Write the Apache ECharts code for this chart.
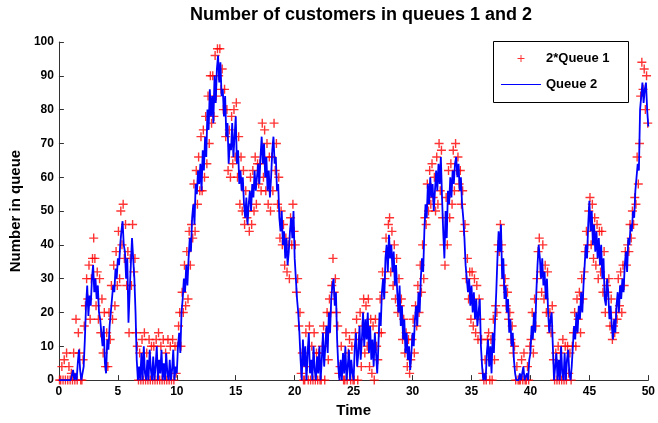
<!DOCTYPE html>
<html>
<head>
<meta charset="utf-8">
<script src="https://cdn.jsdelivr.net/npm/echarts@6/dist/echarts.min.js"></script>
<style>
html,body{margin:0;padding:0;background:#fff;}
#chart{width:658px;height:423px;}
</style>
</head>
<body>
<div id="chart"></div>
<script>
// Sample spacing (time units) of the read-off values
const q2Start = 0, q2Step = 0.1;
const q1Start = 0.05, q1Step = 0.1;

// Queue 2 (blue line), t = 0, 0.1, ..., 50 (one row per time unit)
const queue2 = [
  0,0,0,0,0,0,0,0,0,0,
  0,0,3,0,2,0,5,9,3,0,
  0,4,12,22,28,19,25,22,30,34,
  26,30,24,28,20,18,14,10,16,5,
  2,12,9,16,20,24,28,26,33,30,
  36,34,40,44,47,40,38,30,36,17,
  26,34,42,36,30,20,6,0,4,0,
  8,0,10,2,0,6,0,9,3,0,
  7,0,4,10,0,6,2,9,0,5,
  0,8,2,0,6,0,3,9,0,4,
  2,10,14,8,20,24,30,26,34,28,
  36,42,38,48,52,46,58,55,62,58,
  64,56,68,62,72,66,80,74,86,78,
  84,76,90,82,92,96,88,94,84,86,
  78,84,72,76,64,70,68,76,66,72,
  78,64,68,58,62,56,60,52,48,54,
  46,52,56,50,58,54,62,56,60,64,
  58,66,72,64,70,60,66,56,62,54,
  60,68,72,64,66,56,58,48,44,50,
  40,44,36,42,34,38,44,48,42,50,
  36,30,24,20,14,6,0,12,4,10,
  0,8,14,2,6,0,10,3,0,7,
  2,10,0,6,14,4,10,16,8,20,
  14,24,28,30,22,26,12,4,0,6,
  0,8,2,10,0,4,9,0,6,2,
  0,10,14,4,8,16,6,12,20,10,
  18,12,20,8,16,6,12,4,14,8,
  2,10,20,16,26,30,24,36,40,32,
  43,36,40,32,38,28,34,26,20,28,
  16,22,12,18,8,14,6,10,3,8,
  14,10,18,22,16,26,20,30,36,32,
  44,52,48,58,52,60,54,58,50,56,
  62,56,64,58,66,54,44,36,50,42,
  56,52,60,54,62,58,64,66,60,64,
  56,60,52,48,42,34,30,26,30,22,
  28,20,26,18,24,16,20,24,10,4,
  0,2,0,8,12,4,10,2,14,8,
  18,26,36,44,38,46,30,36,24,28,
  20,24,14,18,10,14,6,2,0,0,
  0,2,0,0,4,0,0,2,0,6,
  8,16,12,20,14,26,34,40,36,30,
  36,28,32,24,30,20,14,18,20,10,
  0,4,8,0,6,0,10,2,0,8,
  0,6,9,2,0,4,10,16,12,20,
  14,22,18,26,20,28,34,40,36,46,
  53,44,50,40,46,38,44,36,42,34,
  40,30,36,24,22,30,26,18,22,16,
  12,18,14,22,26,20,28,24,30,26,
  34,38,32,42,40,46,44,50,48,56,
  60,64,62,80,84,88,82,86,88,80,
  75
];

// 2*Queue 1 (red + markers), t = 0.05, 0.15, ..., 49.95 (one row per time unit)
const queue1x2 = [
  0,0,4,0,6,0,8,0,4,0,
  2,0,8,0,18,0,14,8,0,0,
  6,16,22,30,24,34,18,30,36,42,
  36,22,32,18,30,14,24,8,20,4,
  14,4,20,12,28,18,34,22,38,28,
  44,30,50,40,52,36,46,28,38,14,
  36,28,46,32,36,14,10,0,8,0,
  12,0,14,0,8,0,12,0,10,0,
  10,0,12,0,14,0,10,0,12,0,
  8,0,12,0,10,0,12,0,10,2,
  10,16,20,10,26,20,34,22,38,24,
  44,34,46,42,58,44,62,52,66,56,
  72,56,74,60,78,64,84,70,90,76,
  90,78,96,84,98,90,98,86,92,80,
  86,72,80,62,74,60,78,64,80,66,
  82,60,72,52,66,50,62,46,56,48,
  50,44,60,46,62,50,66,52,64,58,
  64,56,76,60,74,56,70,52,66,50,
  66,56,76,62,70,52,60,42,50,40,
  46,34,42,32,40,30,48,40,52,44,
  40,26,30,16,20,2,8,0,0,14,
  4,0,16,0,10,0,14,0,8,0,
  8,0,0,10,16,0,14,20,6,24,
  20,28,36,26,30,20,16,2,4,10,
  4,0,0,14,0,8,12,0,10,0,
  0,14,18,0,12,20,4,16,24,8,
  22,10,24,4,18,2,16,0,18,10,
  6,14,24,14,32,26,30,42,38,46,
  48,32,44,28,40,24,36,20,30,22,
  24,12,18,8,14,4,12,2,6,12,
  18,8,22,16,28,20,34,26,40,30,
  48,46,58,50,62,52,64,54,60,50,
  66,52,70,56,68,48,40,34,54,40,
  62,48,64,52,68,56,70,62,66,58,
  62,52,56,44,46,30,36,24,32,18,
  32,16,30,14,28,12,24,18,12,2,
  0,6,0,12,14,0,12,0,18,6,
  22,20,40,38,46,40,34,28,30,22,
  26,18,20,12,16,8,10,0,4,0,
  0,0,6,0,8,0,0,4,0,10,
  12,20,8,24,16,30,38,42,32,26,
  40,24,34,20,32,16,20,14,22,6,
  0,8,0,10,0,8,0,12,0,10,
  0,10,2,8,0,10,14,20,10,24,
  18,26,14,30,24,32,38,44,40,50,
  54,40,52,36,48,34,46,30,44,32,
  44,26,38,20,28,26,30,16,24,12,
  16,14,20,18,30,22,32,20,34,28,
  38,34,40,38,46,42,50,46,54,52,
  66,58,70,84,94,86,92,80,90,76
];

// Axis ticks
const xTicks = {min: 0, max: 50, interval: 5};
const yTicks = {min: 0, max: 100, interval: 10};

const titleText = 'Number of customers in queues 1 and 2';
const xName = 'Time';
const yName = 'Number in queue';
const name1 = '2*Queue 1';
const name2 = 'Queue 2';

const q2Data = queue2.map((v, i) => [q2Start + i * q2Step, v]);
const q1Data = queue1x2.map((v, i) => [q1Start + i * q1Step, v]);

const FONT = '"Liberation Sans", Arial, Helvetica, sans-serif';
const plusPath = 'path://M3.8,0H5.2V3.8H9V5.2H5.2V9H3.8V5.2H0V3.8H3.8Z';
const legendPlus = 'path://M3,0H4V3H7V4H4V7H3V4H0V3H3Z';
const linePath = 'path://M0,0H40V1.2H0Z';

const chart = echarts.init(document.getElementById('chart'), null, {renderer: 'canvas'});
chart.setOption({
  animation: false,
  backgroundColor: '#ffffff',
  title: {
    text: titleText,
    left: 356, top: 1, textAlign: 'center',
    textStyle: {fontFamily: FONT, fontSize: 18, fontWeight: 'bold', color: '#000'}
  },
  grid: {left: 57, right: 5, top: 42, bottom: 40, containLabel: false},
  graphic: [{
    type: 'rect', left: 493, top: 41, z: 90,
    shape: {width: 135, height: 61},
    style: {fill: '#fff', stroke: '#000', lineWidth: 1}
  }],
  legend: {
    orient: 'vertical', left: 501, top: 52, padding: 0,
    itemWidth: 40, itemHeight: 7, itemGap: 13, z: 100,
    textStyle: {fontFamily: FONT, fontSize: 13, fontWeight: 'bold', color: '#000'},
    data: [
      {name: name1, icon: legendPlus, itemStyle: {color: '#ff0000'}},
      {name: name2, icon: linePath, itemStyle: {color: '#0000ff'}}
    ],
    selectedMode: false
  },
  xAxis: {
    type: 'value', min: xTicks.min, max: xTicks.max, interval: xTicks.interval,
    name: xName, nameLocation: 'middle', nameGap: 20,
    nameTextStyle: {fontFamily: FONT, fontSize: 15, fontWeight: 'bold', color: '#000'},
    axisLine: {show: true, onZero: false, lineStyle: {color: '#333', width: 1}},
    axisTick: {show: true, inside: true, length: 5, lineStyle: {color: '#333'}},
    axisLabel: {fontFamily: FONT, fontSize: 12, fontWeight: 'bold', color: '#000', margin: 6},
    splitLine: {show: false}
  },
  yAxis: {
    type: 'value', min: yTicks.min, max: yTicks.max, interval: yTicks.interval,
    name: yName, nameLocation: 'middle', nameGap: 32,
    nameTextStyle: {fontFamily: FONT, fontSize: 15, fontWeight: 'bold', color: '#000'},
    axisLine: {show: true, onZero: false, lineStyle: {color: '#333', width: 1}},
    axisTick: {show: true, inside: true, length: 5, lineStyle: {color: '#333'}},
    axisLabel: {fontFamily: FONT, fontSize: 12, fontWeight: 'bold', color: '#000', margin: 5},
    splitLine: {show: false}
  },
  series: [
    {
      name: name1, type: 'scatter', data: q1Data,
      symbol: plusPath, symbolSize: 9, clip: false,
      itemStyle: {color: '#ff0000'},
      z: 2
    },
    {
      name: name2, type: 'line', data: q2Data,
      symbol: 'none', showSymbol: false,
      lineStyle: {color: '#0000ff', width: 1.8},
      itemStyle: {color: '#0000ff'},
      z: 3
    }
  ]
});
</script>
</body>
</html>
